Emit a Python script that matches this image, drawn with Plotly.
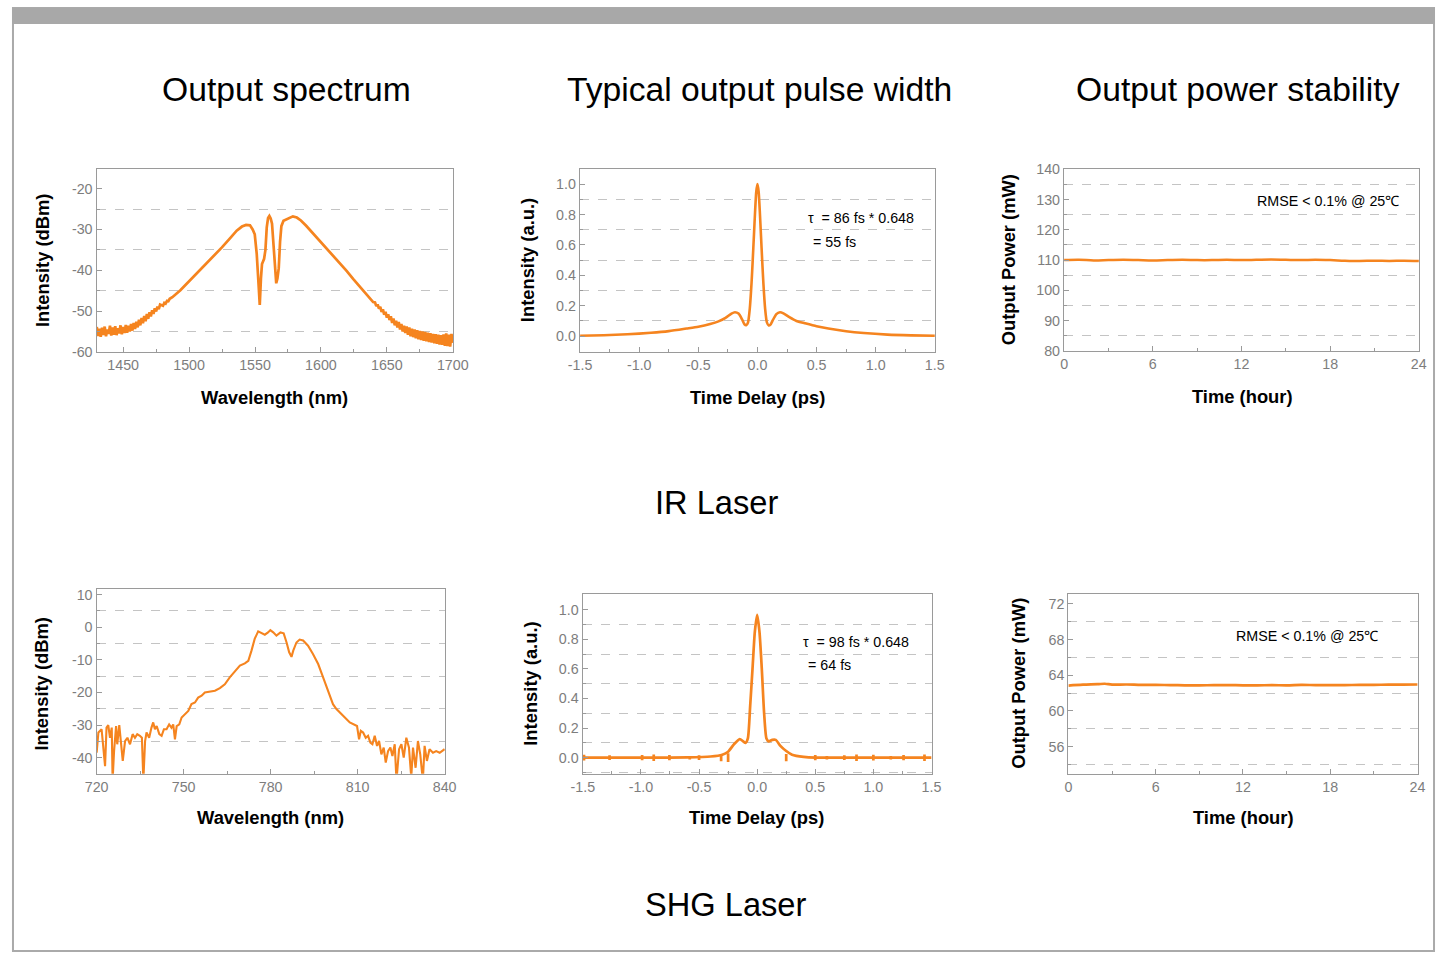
import plotly.graph_objects as go

W, H = 1451, 960
ORANGE = "#F5841F"
FONT = "Liberation Sans, Arial, sans-serif"

# ---------------- data ----------------
# IR spectrum (nm, dBm)
ir_wl = [1430, 1431, 1432, 1433, 1434, 1435, 1436, 1437, 1438, 1439, 1440, 1441, 1442, 1443, 1444, 1445,
         1446, 1447, 1448, 1449, 1450, 1451, 1452, 1453, 1454, 1455, 1456, 1457, 1458, 1459, 1460, 1461,
         1462, 1463, 1464, 1465, 1466, 1467, 1468, 1469, 1470, 1471, 1472, 1473, 1474, 1475, 1476, 1477, 1478,
         1480.2, 1481.2, 1482.2, 1483.3, 1484.3, 1485.3, 1487.3, 1493.4, 1499.5, 1505.6, 1511.7, 1518.8, 1524.9,
         1531.0, 1536.1, 1540.1, 1543.2, 1546.2, 1548.2, 1549.8, 1551.3,
         1552.8, 1553.6, 1554.5, 1555.3, 1556.9, 1557.9, 1558.9, 1559.9, 1560.9, 1561.9, 1562.9, 1563.9, 1564.9,
         1566.1, 1567.0, 1568.0, 1569.0, 1570.0, 1571.6, 1573.6, 1575.6, 1578.7, 1581.7, 1584.8, 1588.8, 1593.9,
         1599.0, 1604.1, 1609.1, 1614.2, 1619.3, 1624.4, 1629.5, 1634.5, 1637.6, 1639.6,
         1641, 1642, 1643, 1644, 1645, 1646, 1647, 1648, 1649, 1650, 1651, 1652, 1653, 1654, 1655, 1656,
         1657, 1658, 1659, 1660, 1661, 1662, 1663, 1664, 1665, 1666, 1667, 1668, 1669, 1670, 1671, 1672,
         1673, 1674, 1675, 1676, 1677, 1678, 1679, 1680, 1681, 1682, 1683, 1684, 1685, 1686, 1687, 1688,
         1689, 1690, 1691, 1692, 1693, 1694, 1695, 1696, 1697, 1698, 1699, 1700]
ir_db = [-53.9, -56.1, -54.3, -56.3, -54.1, -55.9, -53.8, -56.2, -54.5, -55.6, -53.6, -56.0, -54.0, -55.8, -53.7, -55.9,
         -54.2, -55.5, -53.5, -55.7, -53.9, -55.4, -53.4, -55.3, -53.6, -55.0, -53.2, -54.8, -52.9, -54.4, -52.6, -54.0,
         -52.1, -53.5, -51.7, -53.0, -51.2, -52.5, -50.7, -51.9, -50.3, -51.3, -49.8, -50.7, -49.3, -50.1, -48.9, -49.5, -48.4,
         -48.7, -48.0, -48.2, -47.5, -47.6, -47.0, -46.6, -44.9, -42.9, -40.8, -38.7, -36.6, -34.4,
         -32.2, -30.3, -29.3, -28.9, -29.0, -30.0, -31.2, -36.0,
         -44.0, -48.5, -42.0, -38.5, -37.2, -35.0, -29.5, -27.2, -26.7, -27.3, -28.6, -33.0, -39.5,
         -43.2, -42.0, -39.5, -33.0, -29.2, -27.9, -27.6, -27.3, -26.8, -27.1, -27.8, -29.1, -30.9,
         -32.8, -34.6, -36.4, -38.2, -40.1, -42.1, -44.1, -46.0, -47.1, -47.8,
         -47.9, -48.8, -48.4, -49.4, -49.0, -50.2, -49.6, -50.9, -50.2, -51.6, -50.8, -52.2, -51.3, -52.9, -51.8, -53.5,
         -52.4, -54.0, -52.7, -54.5, -53.2, -55.0, -53.6, -55.4, -53.8, -55.8, -54.0, -56.2, -54.3, -56.4, -54.5, -56.7,
         -54.7, -56.9, -54.9, -57.1, -55.0, -57.3, -55.1, -57.4, -55.3, -57.6, -55.4, -57.7, -55.6, -57.9, -55.7, -58.0,
         -55.8, -58.2, -55.9, -58.3, -55.7, -58.5, -55.5, -58.6, -55.8, -58.7, -55.6, -57.8]

# IR autocorrelation (ps, a.u.)
ir_t = [-1.5, -1.3, -1.1, -0.9, -0.75, -0.6, -0.5, -0.4, -0.33, -0.27, -0.22, -0.19, -0.16, -0.13, -0.11, -0.095,
        -0.08, -0.065, -0.05, -0.04, -0.03, -0.02, -0.01, 0.0, 0.01, 0.02, 0.03, 0.04, 0.05, 0.065, 0.08, 0.095,
        0.11, 0.13, 0.16, 0.19, 0.22, 0.27, 0.33, 0.4, 0.5, 0.6, 0.75, 0.9, 1.1, 1.3, 1.5]
ir_ac = [0.002, 0.006, 0.012, 0.022, 0.033, 0.050, 0.062, 0.080, 0.097, 0.120, 0.148, 0.157, 0.148, 0.110, 0.078, 0.072,
         0.090, 0.180, 0.350, 0.500, 0.660, 0.820, 0.950, 1.000, 0.950, 0.820, 0.660, 0.500, 0.350, 0.180, 0.090, 0.070,
         0.076, 0.105, 0.145, 0.157, 0.150, 0.125, 0.100, 0.085, 0.065, 0.050, 0.032, 0.020, 0.010, 0.005, 0.002]

# IR power stability (hour, mW)
ir_h = [0, 1, 2, 3, 4, 5, 6, 7, 8, 9, 10, 11, 12, 13, 14, 15, 16, 17, 18, 19, 20, 21, 22, 23, 24]
ir_mw = [110.0, 110.1, 109.9, 110.0, 110.1, 110.0, 109.9, 110.0, 110.1, 110.0, 110.0, 110.1, 110.0, 110.1, 110.2,
         110.1, 110.0, 110.1, 110.0, 109.8, 109.7, 109.8, 109.7, 109.8, 109.7]

# SHG spectrum (nm, dBm)
shg_wl = [720.0, 720.4, 720.6, 721.7, 722.3, 722.9, 723.4, 724.0, 724.6, 725.2, 725.5, 726.0, 726.7, 727.1, 727.8,
          728.3, 729.0, 729.8, 730.6, 731.5, 732.4, 733.2, 734.0, 734.9, 735.6, 736.1, 736.7, 737.2, 738.1, 738.9,
          739.5, 740.1, 740.7, 741.6, 742.4, 743.2, 744.1, 745.0, 745.8, 746.4, 747.0, 747.6, 748.5, 749.3, 750.4,
          751.6, 752.7, 753.9, 755.0, 756.2, 757.3, 759.0, 760.8, 762.5, 764.2, 765.9, 767.7, 769.4, 771.1, 772.3,
          773.4, 774.5, 775.7, 776.8, 778.0, 779.1, 779.9, 780.9, 782.0, 783.4, 784.5, 785.5, 786.4, 787.2, 787.8,
          788.9, 790.0, 791.2, 792.9, 794.6, 796.4, 798.1, 799.8, 801.5, 802.7, 803.8, 805.6, 807.3, 809.0, 809.8,
          810.5, 811.1, 811.9, 812.8, 813.6, 814.4, 815.1, 815.9, 816.7, 817.4, 818.2, 819.0, 819.7, 820.5, 821.3,
          822.0, 822.8, 823.4, 824.3, 825.1, 825.9, 826.8, 827.7, 828.5, 829.1, 830.0, 830.8, 831.6, 832.5, 833.1,
          833.9, 834.8, 836.0, 837.1, 838.3, 840.0]
shg_db = [-38.5, -32.8, -32.3, -31.3, -36.9, -42.6, -30.8, -30.0, -33.9, -30.8, -47.0, -38.0, -30.3, -35.9, -30.0,
          -33.9, -41.0, -34.9, -33.9, -35.9, -32.8, -33.9, -32.8, -33.3, -33.9, -47.0, -34.9, -32.3, -33.9, -30.8,
          -29.2, -31.3, -30.3, -32.8, -33.3, -31.3, -31.3, -29.8, -30.8, -29.8, -34.4, -30.3, -29.8, -27.7, -26.7,
          -25.7, -23.6, -23.1, -21.6, -21.0, -20.0, -19.8, -19.5, -18.7, -17.5, -15.4, -13.4, -11.8, -11.1, -10.3,
          -7.2, -3.6, -1.3, -1.9, -2.3, -1.6, -0.9, -1.6, -2.6, -1.6, -1.9, -4.7, -7.7, -9.1, -7.2,
          -4.7, -3.8, -4.1, -5.7, -8.2, -11.3, -15.4, -19.5, -23.6, -25.1, -26.2, -27.7, -29.2, -29.8, -30.3,
          -34.4, -31.8, -32.3, -33.9, -33.3, -35.4, -35.9, -33.3, -36.4, -34.9, -39.0, -36.9, -41.5, -38.0, -36.9,
          -39.5, -35.9, -47.0, -37.4, -35.9, -40.0, -33.9, -36.9, -46.0, -36.9, -43.1, -34.9, -39.0, -47.0, -36.4,
          -41.0, -37.4, -38.5, -38.0, -38.5, -37.4]

# SHG autocorrelation (ps, a.u.)
shg_t = [-1.5, -1.2, -0.9, -0.6, -0.4, -0.3, -0.25, -0.2, -0.15, -0.12, -0.1, -0.08, -0.06, -0.04, -0.02, 0.0,
         0.02, 0.04, 0.06, 0.08, 0.1, 0.13, 0.16, 0.2, 0.25, 0.3, 0.4, 0.5, 0.8, 1.1, 1.5]
shg_ac = [0.0, 0.0, 0.0, 0.002, 0.008, 0.02, 0.04, 0.09, 0.125, 0.11, 0.10, 0.13, 0.35, 0.60, 0.85, 0.965,
          0.85, 0.60, 0.30, 0.13, 0.11, 0.12, 0.12, 0.08, 0.045, 0.02, 0.005, 0.0, 0.0, 0.0, 0.0]
# noise glitches on the SHG trace (position ps, half-height a.u.)
shg_spike_t = [-1.49, -1.27, -0.99, -0.89, -0.755, -0.58, -0.5, -0.31, -0.25, 0.25, 0.5, 0.6, 0.75, 0.855, 1.0, 1.15, 1.26, 1.44]
shg_spike_a = [0.02, 0.016, 0.018, 0.022, 0.018, 0.012, 0.016, 0.025, 0.03, 0.025, 0.018, 0.012, 0.016, 0.022, 0.02, 0.012, 0.018, 0.022]

# SHG power stability (hour, mW)
shg_h = [0, 1, 2, 2.5, 3, 4, 5, 6, 7, 8, 9, 10, 11, 12, 13, 14, 15, 16, 17, 18, 19, 20, 21, 22, 23, 24]
shg_mw = [62.85, 62.95, 63.0, 63.05, 62.95, 62.97, 62.92, 62.93, 62.9, 62.88, 62.87, 62.9, 62.9, 62.88, 62.87, 62.9,
          62.87, 62.92, 62.9, 62.9, 62.9, 62.92, 62.93, 62.95, 62.96, 62.97]

# tick values / labels
ir_wl_ticks = [1450, 1500, 1550, 1600, 1650, 1700]
ir_db_ticks = [-60, -50, -40, -30, -20]
ir_db_labels = ["-60", "-50", "-40", "-30", "-20"]
t_ticks = [-1.5, -1.0, -0.5, 0.0, 0.5, 1.0, 1.5]
t_labels = ["-1.5", "-1.0", "-0.5", "0.0", "0.5", "1.0", "1.5"]
ac_ticks = [0.0, 0.2, 0.4, 0.6, 0.8, 1.0]
ac_labels = ["0.0", "0.2", "0.4", "0.6", "0.8", "1.0"]
h_ticks = [0, 6, 12, 18, 24]
ir_mw_ticks = [80, 90, 100, 110, 120, 130, 140]
shg_wl_ticks = [720, 750, 780, 810, 840]
shg_db_ticks = [-40, -30, -20, -10, 0, 10]
shg_db_labels = ["-40", "-30", "-20", "-10", "0", "10"]
shg_mw_ticks = [56, 60, 64, 68, 72]

# ---------------- layout helpers ----------------
# The returned photo maps page pixel p to about A + S*p; positions below are given
# in reference-picture pixels and converted back to page pixels.
AX, SX, AY, SY = 12.2, 0.9805, 8.1, 0.982
K = 1 / SX  # font scale compensation

def pgx(r):
    return (r - AX) / SX

def pgy(r):
    return (r - AY) / SY

def dx(a, b):
    return [max(0, pgx(a) / W), min(1, pgx(b) / W)]

def dy(top, bottom):
    return [max(0, 1 - pgy(bottom) / H), min(1, 1 - pgy(top) / H)]

def px(x):
    return pgx(x) / W

def py(y):
    return 1 - pgy(y) / H

GRID = "#c4c4c4"
AXC = "#9a9a9a"
TICKF = dict(family=FONT, size=14 * K, color="#7d7d7d")

def axis(domain, rng, vals, labels, m0, mstep, anchor, grid=False):
    d = dict(domain=domain, range=rng, tickmode="array", tickvals=vals,
             ticktext=labels if labels is not None else [str(v) for v in vals],
             showgrid=False, zeroline=False,
             showline=True, linecolor=AXC, linewidth=1.2, mirror=True,
             ticks="inside", ticklen=5, tickcolor=AXC, tickwidth=1,
             tickfont=TICKF, anchor=anchor, fixedrange=True,
             minor=dict(tickmode="linear", tick0=m0, dtick=mstep, ticks="inside", ticklen=3,
                        tickcolor=AXC, showgrid=grid))
    if grid:
        d["minor"].update(gridcolor=GRID, griddash="dash", gridwidth=1)
    return d

fig = go.Figure()

fig.add_trace(go.Scatter(x=ir_wl, y=ir_db, mode="lines", line=dict(color=ORANGE, width=2.7),
                         xaxis="x", yaxis="y", hoverinfo="skip"))
fig.add_trace(go.Scatter(x=ir_t, y=ir_ac, mode="lines", line=dict(color=ORANGE, width=2.6, shape="spline", smoothing=0.6),
                         xaxis="x2", yaxis="y2", hoverinfo="skip"))
fig.add_trace(go.Scatter(x=ir_h, y=ir_mw, mode="lines", line=dict(color=ORANGE, width=2.5, shape="spline"),
                         xaxis="x3", yaxis="y3", hoverinfo="skip"))
fig.add_trace(go.Scatter(x=shg_wl, y=shg_db, mode="lines", line=dict(color=ORANGE, width=2.1),
                         xaxis="x4", yaxis="y4", hoverinfo="skip"))
fig.add_trace(go.Scatter(x=shg_t, y=shg_ac, mode="lines", line=dict(color=ORANGE, width=2.7, shape="spline", smoothing=0.6),
                         xaxis="x5", yaxis="y5", hoverinfo="skip"))
sx, sy = [], []
for t, a in zip(shg_spike_t, shg_spike_a):
    sx += [t, t, None]
    sy += [-a, a, None]
fig.add_trace(go.Scatter(x=sx, y=sy, mode="lines", line=dict(color=ORANGE, width=2.7),
                         xaxis="x5", yaxis="y5", hoverinfo="skip"))
fig.add_trace(go.Scatter(x=shg_h, y=shg_mw, mode="lines", line=dict(color=ORANGE, width=2.7, shape="spline"),
                         xaxis="x6", yaxis="y6", hoverinfo="skip"))

fig.update_layout(
    width=W, height=H, margin=dict(l=0, r=0, t=0, b=0),
    paper_bgcolor="white", plot_bgcolor="white", showlegend=False,
    font=dict(family=FONT),
    xaxis=axis(dx(96.7, 453.3), [1429.8, 1700.3], ir_wl_ticks, None, 1475, 50, "y"),
    yaxis=axis(dy(169.3, 351.7), [-60.05, -15.3], ir_db_ticks, ir_db_labels, -55, 10, "x", grid=True),
    xaxis2=axis(dx(580, 935), [-1.502, 1.502], t_ticks, t_labels, -1.25, 0.5, "y2"),
    yaxis2=axis(dy(169.3, 351.7), [-0.105, 1.097], ac_ticks, ac_labels, 0.1, 0.2, "x2", grid=True),
    xaxis3=axis(dx(1064, 1419), [-0.01, 24.02], h_ticks, None, 3, 6, "y3"),
    yaxis3=axis(dy(169, 350.7), [79.97, 140.03], ir_mw_ticks, None, 85, 10, "x3", grid=True),
    xaxis4=axis(dx(96.7, 445), [719.95, 840.1], shg_wl_ticks, None, 735, 30, "y4"),
    yaxis4=axis(dy(588.3, 772.7), [-44.9, 11.7], shg_db_ticks, shg_db_labels, -35, 10, "x4", grid=True),
    xaxis5=axis(dx(582.7, 931.7), [-1.502, 1.502], t_ticks, t_labels, -1.25, 0.5, "y5"),
    yaxis5=axis(dy(593.3, 772.7), [-0.108, 1.106], ac_ticks, ac_labels, 0.1, 0.2, "x5", grid=True),
    xaxis6=axis(dx(1068.3, 1417.7), [-0.01, 24.02], h_ticks, None, 3, 6, "y6"),
    yaxis6=axis(dy(593.3, 772.7), [52.97, 73.12], shg_mw_ticks, None, 54, 4, "x6", grid=True),
)

# ---------------- texts ----------------
def txt(s, x, y, size, bold=False, xanchor="center", angle=0, color="black"):
    fig.add_annotation(text=f"<b>{s}</b>" if bold else s, x=px(x), y=py(y), xref="paper", yref="paper",
                       xanchor=xanchor, yanchor="middle", showarrow=False, textangle=angle,
                       font=dict(family=FONT, size=size * K, color=color))

txt("Output spectrum", 287, 89, 33)
txt("Typical output pulse width", 760, 89, 33)
txt("Output power stability", 1238, 89, 33)
txt("IR Laser", 717, 502, 32)
txt("SHG Laser", 726, 903, 32)

txt("Wavelength (nm)", 275, 397, 18, bold=True)
txt("Time Delay (ps)", 758, 397, 18, bold=True)
txt("Time (hour)", 1242, 396, 18, bold=True)
txt("Wavelength (nm)", 271, 817, 18, bold=True)
txt("Time Delay (ps)", 757, 817, 18, bold=True)
txt("Time (hour)", 1243, 817, 18, bold=True)

txt("Intensity (dBm)", 42, 260, 18, bold=True, angle=-90)
txt("Intensity (a.u.)", 527, 260, 18, bold=True, angle=-90)
txt("Output Power (mW)", 1008, 260, 18, bold=True, angle=-90)
txt("Intensity (dBm)", 42, 683, 18, bold=True, angle=-90)
txt("Intensity (a.u.)", 531, 683, 18, bold=True, angle=-90)
txt("Output Power (mW)", 1019, 683, 18, bold=True, angle=-90)

txt("τ  = 86 fs * 0.648", 806, 218, 14, xanchor="left")
txt("= 55 fs", 811, 241.5, 14, xanchor="left")
txt("RMSE < 0.1% @ 25℃", 1255, 201, 14, xanchor="left")
txt("τ  = 98 fs * 0.648", 801, 641, 14, xanchor="left")
txt("= 64 fs", 806, 664, 14, xanchor="left")
txt("RMSE < 0.1% @ 25℃", 1234, 635.5, 14, xanchor="left")

# ---------------- page frame ----------------
fig.add_shape(type="rect", xref="paper", yref="paper", x0=1 / W, x1=1 - 1 / W, y0=1 / H, y1=1,
              line=dict(color="#aaaaaa", width=2), fillcolor="rgba(0,0,0,0)", layer="below")
fig.add_shape(type="rect", xref="paper", yref="paper", x0=0, x1=1, y0=py(24), y1=1,
              line=dict(width=0), fillcolor="#a8a8a8", layer="below")

fig.write_html("out.html", config={"displayModeBar": False},
               post_script="document.body.style.margin='0';document.body.style.overflow='hidden';")
